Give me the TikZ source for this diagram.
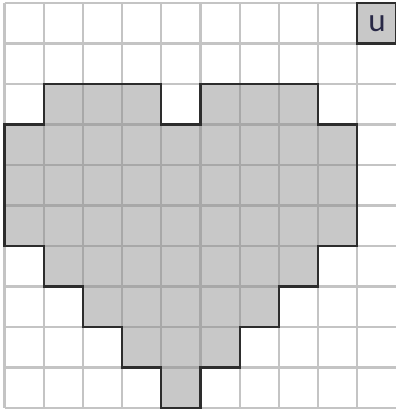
\documentclass[tikz,border=0pt]{standalone}
\usepackage{fontspec}
\setsansfont{Carlito}
\usepackage{tikz}
\definecolor{heartc}{RGB}{200,200,200}
\definecolor{edgec}{RGB}{45,45,45}
\definecolor{inkc}{RGB}{40,40,70}
\definecolor{gridc}{RGB}{196,196,196}
\definecolor{gridinc}{RGB}{168,168,168}
\newcommand{\heartpath}{(1,2)--(4,2)--(4,3)--(5,3)--(5,2)--(8,2)--(8,3)--(9,3)--(9,6)--(8,6)--(8,7)--(7,7)--(7,8)--(6,8)--(6,9)--(5,9)--(5,10)--(4,10)--(4,9)--(3,9)--(3,8)--(2,8)--(2,7)--(1,7)--(1,6)--(0,6)--(0,3)--(1,3)--cycle}

\begin{document}
\begin{tikzpicture}[x=1cm,y=-1.033cm,line join=miter,
    gridline/.style={gridc,line width=1.5pt},
    heartedge/.style={edgec,line width=1.6pt},
    ubox/.style={fill=heartc,draw=edgec,line width=1.6pt,minimum width=1cm,minimum height=1.033cm,inner sep=0pt,
      font=\sffamily\fontsize{24}{24}\selectfont,text=inkc}]
  \useasboundingbox (-0.115,-0.074) rectangle (9.962,10.05);
  % heart
  \fill[heartc] \heartpath;
  % grid
  \foreach \i in {0,...,10} {
    \draw[gridline] (\i,0)--(\i,10);
    \draw[gridline] (0,\i)--(10,\i);
  }
  \begin{scope}
    \clip \heartpath;
    \foreach \i in {0,...,10} {
      \draw[gridline,gridinc] (\i,0)--(\i,10);
      \draw[gridline,gridinc] (0,\i)--(10,\i);
    }
  \end{scope}
  \draw[heartedge] \heartpath;
  \node[ubox] (u) at (9.5,0.5) {u};
\end{tikzpicture}
\end{document}
